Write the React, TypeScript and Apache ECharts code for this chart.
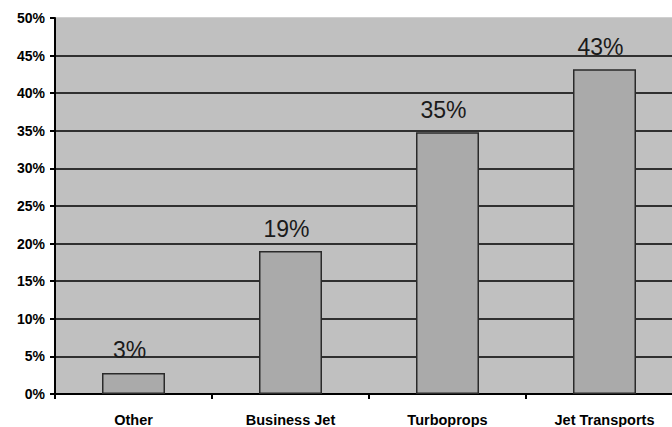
import React, { useEffect, useRef } from "react";
import * as echarts from "echarts";

const categories = ["Other", "Business Jet", "Turboprops", "Jet Transports"];
const shares = [2.8, 19, 34.8, 43.2];
const yTicks = [0, 5, 10, 15, 20, 25, 30, 35, 40, 45, 50];

export default function App() {
  const ref = useRef<HTMLDivElement>(null);
  useEffect(() => {
    if (!ref.current) return;
    const chart = echarts.init(ref.current, undefined, { renderer: "svg" });
    const gridColors = yTicks.map((t) => (t === 50 ? "#c0c0c0" : "#000000"));
    chart.setOption({
      animation: false,
      textStyle: { fontFamily: "Liberation Sans, Arial, sans-serif" },
      grid: {
        left: 55,
        right: 0,
        top: 18,
        bottom: 31,
        show: true,
        backgroundColor: "#c0c0c0",
        borderWidth: 0,
      },
      xAxis: {
        type: "category",
        data: categories,
        axisLine: { show: true, lineStyle: { color: "#000", width: 2 } },
        axisTick: { show: true, alignWithLabel: false, length: 5, lineStyle: { color: "#000", width: 2 } },
        axisLabel: { color: "#000", fontWeight: "bold", fontSize: 14.5, margin: 18 },
      },
      yAxis: {
        type: "value",
        min: 0,
        max: 50,
        interval: 5,
        axisLine: { show: true, lineStyle: { color: "#000", width: 2 } },
        axisTick: { show: true, length: 5, lineStyle: { color: "#000", width: 2 } },
        axisLabel: { color: "#000", fontWeight: "bold", fontSize: 14, margin: 10, formatter: "{value}%" },
        splitLine: { show: true, lineStyle: { color: gridColors, width: 1.6 } },
      },
      series: [
        {
          type: "bar",
          data: shares,
          barWidth: 63,
          itemStyle: { color: "#aaaaaa", borderColor: "#2a2a2a", borderWidth: 1.5 },
          label: {
            show: true,
            position: "top",
            distance: 11,
            offset: [-4, 0],
            fontSize: 23,
            color: "#1a1a1a",
            formatter: (p: any) => Math.round(p.value) + "%",
          },
        },
      ],
    });
    return () => chart.dispose();
  }, []);
  return (
    <div style={{ position: "fixed", left: 0, top: 0, width: 672, height: 427, overflow: "hidden", background: "#fff" }}>
      <div ref={ref} style={{ position: "absolute", left: 0, top: 0, width: 683, height: 427 }} />
    </div>
  );
}
